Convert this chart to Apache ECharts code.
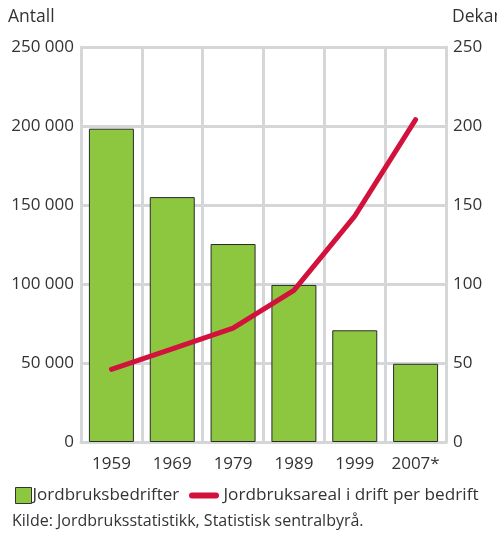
<!DOCTYPE html>
<html><head><meta charset="utf-8">
<script src="https://cdn.jsdelivr.net/npm/echarts@6/dist/echarts.min.js"></script>
<style>html,body{margin:0;padding:0;background:#fff}#c{width:497px;height:535px}</style>
</head><body><div id="c"></div>
<script>
const categories = ['1959','1969','1979','1989','1999','2007*'];
const farms = [198300, 155000, 125300, 99400, 70700, 49500];
const areaPerFarm = [46, 59, 72, 96, 143, 204];
const leftTicks = [0, 50000, 100000, 150000, 200000, 250000];
const rightTicks = [0, 50, 100, 150, 200, 250];
const seriesNames = ['Jordbruksbedrifter', 'Jordbruksareal i drift per bedrift'];

const FONT = '"Open Sans", "Noto Sans", sans-serif';
const GRID = '#d5d6d8';
const TXT = '#333333';
const fmt = v => String(v).replace(/\B(?=(\d{3})+(?!\d))/g, ' ');

const chart = echarts.init(document.getElementById('c'), null, {renderer:'canvas'});
chart.setOption({
  animation:false,
  textStyle:{fontFamily:FONT},
  grid:{left:81, right:51, top:47, bottom:93, containLabel:false},
  legend:[{
    data:[{name:seriesNames[0], icon:'rect', itemStyle:{borderColor:'#333', borderWidth:1}}],
    left:10, top:482, itemWidth:16, itemHeight:16, itemGap:0,
    textStyle:{fontFamily:FONT, fontSize:17, color:TXT, padding:[0,0,0,-4]},
    selectedMode:false
  },{
    data:[{name:seriesNames[1], icon:'path://M3,0 L27,0 A3,3 0 0 1 27,6 L3,6 A3,3 0 0 1 3,0 Z'}],
    left:184, top:482, itemWidth:31, itemHeight:6, itemGap:0,
    textStyle:{fontFamily:FONT, fontSize:17.2, color:TXT, padding:[0,0,0,-1]},
    selectedMode:false
  }],
  xAxis:{
    type:'category', data:categories, boundaryGap:true,
    axisLine:{show:true, lineStyle:{color:GRID, width:3}},
    axisTick:{show:false, interval:0},
    splitLine:{show:true, interval:0, lineStyle:{color:GRID, width:3}},
    axisLabel:{fontFamily:FONT, fontSize:17, color:TXT, margin:14, interval:0}
  },
  yAxis:[{
    type:'value', min:0, max:250000, interval:50000,
    axisLine:{show:true, lineStyle:{color:GRID, width:3}},
    axisTick:{show:false},
    splitLine:{show:true, lineStyle:{color:GRID, width:3}},
    axisLabel:{fontFamily:FONT, fontSize:17, color:TXT, margin:7,
      formatter:v => leftTicks.includes(v) ? fmt(v) : ''}
  },{
    type:'value', min:0, max:250, interval:50, position:'right',
    axisLine:{show:true, lineStyle:{color:GRID, width:3}},
    axisTick:{show:false},
    splitLine:{show:false},
    axisLabel:{fontFamily:FONT, fontSize:17, color:TXT, margin:7,
      formatter:v => rightTicks.includes(v) ? String(v) : ''}
  }],
  graphic:[
    {type:'text', left:8, top:8, style:{text:'Antall', font:'17.5px '+FONT, fill:TXT}},
    {type:'text', left:452, top:8, style:{text:'Dekar', font:'17.5px '+FONT, fill:TXT}},
    {type:'text', left:12, top:513, style:{text:'Kilde: Jordbruksstatistikk, Statistisk sentralbyrå.', font:'16px '+FONT, fill:TXT}}
  ],
  series:[{
    name:seriesNames[0], type:'bar', data:farms, yAxisIndex:0, barWidth:45,
    itemStyle:{color:'#8dc63f', borderColor:'#2b2b2b', borderWidth:1}
  },{
    name:seriesNames[1], type:'line', data:areaPerFarm, yAxisIndex:1,
    symbol:'none', smooth:false,
    lineStyle:{color:'#d2113d', width:5, cap:'round', join:'round'},
    itemStyle:{color:'#d2113d'}
  }]
});
</script></body></html>
